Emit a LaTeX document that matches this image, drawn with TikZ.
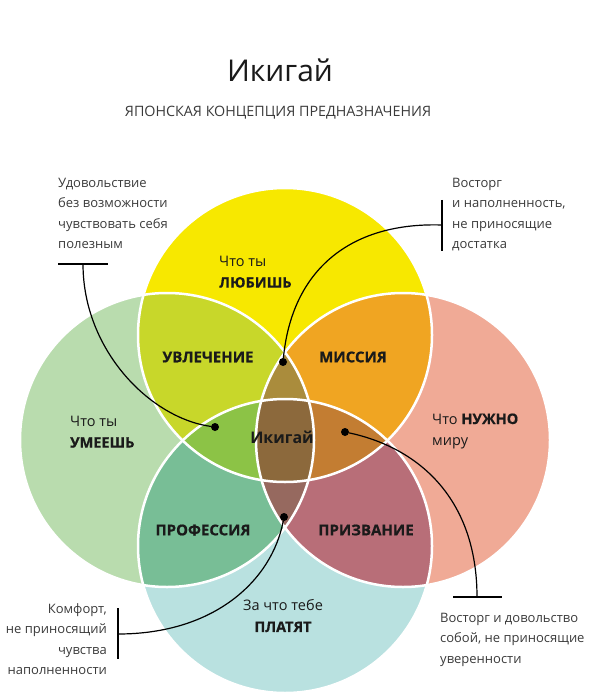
\documentclass[tikz,border=0pt]{standalone}
\usepackage{fontspec}
\setmainfont{Open Sans}
\newfontfamily\heavyfont{Open Sans}[UprightFont={* Bold}, FakeBold=0.6]
\usetikzlibrary{positioning}
\definecolor{Love}{HTML}{F7E800}
\definecolor{Good}{HTML}{B9DCAE}
\definecolor{Need}{HTML}{F0AA96}
\definecolor{Paid}{HTML}{B9E1E0}
\definecolor{Passion}{HTML}{C8D72A}
\definecolor{Mission}{HTML}{F0A522}
\definecolor{Profession}{HTML}{78BE96}
\definecolor{Vocation}{HTML}{B86E78}
\definecolor{TopTri}{HTML}{AA8C3C}
\definecolor{LeftTri}{HTML}{8CC346}
\definecolor{RightTri}{HTML}{C37D32}
\definecolor{LowTri}{HTML}{96695F}
\definecolor{Core}{HTML}{8C693C}
\definecolor{Ink}{HTML}{1A1A1A}
\definecolor{Note}{HTML}{3A3A3A}
\def\rad{147pt}
\tikzset{
  ring/.style={draw=white, line width=2.5pt},
  note/.style={align=left, text=Note, font=\fontsize{13}{20.5}\selectfont, inner sep=0pt},
  circlabel/.style={align=left, text=Ink, font=\fontsize{14.5}{21}\selectfont, inner sep=0pt},
  zone/.style={text=Ink, font=\heavyfont\fontsize{15}{17}\selectfont, inner sep=0pt},
  lead/.style={draw=black, line width=1.2pt},
  bar/.style={draw=black, line width=1.5pt},
  pin/.style={circle, fill=black, inner sep=0pt, minimum size=8pt}
}

\begin{document}
\begin{tikzpicture}[x=1pt, y=-1pt]
  \useasboundingbox (0,0) rectangle (596,700);

  \node[text=Ink, font=\fontsize{30}{36}\selectfont] (title) at (280,70) {Икигай};
  \node[text=Note, font=\fontsize{14.3}{16}\selectfont] (subtitle) at (278,113) {ЯПОНСКАЯ КОНЦЕПЦИЯ ПРЕДНАЗНАЧЕНИЯ};

  % centres of the four circles
  \coordinate (love) at (285,335);
  \coordinate (good) at (167,440);
  \coordinate (need) at (403,440);
  \coordinate (paid) at (285,546);

  % single circles
  \fill[Love] (love) circle[radius=\rad];
  \fill[Good] (good) circle[radius=\rad];
  \fill[Need] (need) circle[radius=\rad];
  \fill[Paid] (paid) circle[radius=\rad];

  % pairs
  \begin{scope}
    \clip (love) circle[radius=\rad];
    \fill[Passion] (good) circle[radius=\rad];
    \fill[Mission] (need) circle[radius=\rad];
  \end{scope}
  \begin{scope}
    \clip (paid) circle[radius=\rad];
    \fill[Profession] (good) circle[radius=\rad];
    \fill[Vocation] (need) circle[radius=\rad];
  \end{scope}

  % triples
  \begin{scope}
    \clip (love) circle[radius=\rad];
    \clip (good) circle[radius=\rad];
    \fill[TopTri] (need) circle[radius=\rad];
    \fill[LeftTri] (paid) circle[radius=\rad];
  \end{scope}
  \begin{scope}
    \clip (paid) circle[radius=\rad];
    \clip (need) circle[radius=\rad];
    \fill[RightTri] (love) circle[radius=\rad];
    \fill[LowTri] (good) circle[radius=\rad];
  \end{scope}
  \begin{scope}
    \clip (love) circle[radius=\rad];
    \clip (good) circle[radius=\rad];
    \clip (need) circle[radius=\rad];
    \fill[Core] (paid) circle[radius=\rad];
  \end{scope}

  % outlines
  \foreach \c in {love,good,need,paid}
    \draw[ring] (\c) circle[radius=\rad];

  % circle texts
  \node[circlabel, anchor=west] (lovetxt) at (219,272) {Что ты\\{\heavyfont ЛЮБИШЬ}};
  \node[circlabel, anchor=west] (goodtxt) at (70,432) {Что ты\\{\heavyfont УМЕЕШЬ}};
  \node[circlabel, anchor=west] (needtxt) at (432,431) {Что {\heavyfont НУЖНО}\\миру};
  \node[circlabel, align=center] (paidtxt) at (283,616) {За что тебе\\{\heavyfont ПЛАТЯТ}};

  \node[zone] (passion) at (208,357) {УВЛЕЧЕНИЕ};
  \node[zone] (mission) at (353,357) {МИССИЯ};
  \node[zone] (profession) at (203,530) {ПРОФЕССИЯ};
  \node[zone] (vocation) at (366,530) {ПРИЗВАНИЕ};
  \node[text=Ink, font=\bfseries\fontsize{16}{18}\selectfont, inner sep=0pt] (ikigai) at (282,437) {Икигай};

  % pins
  \node[pin] (pinL) at (215,427) {};
  \node[pin] (pinT) at (283,362) {};
  \node[pin] (pinB) at (284,517) {};
  \node[pin] (pinR) at (345,432) {};

  % annotations
  \node[note, anchor=north west] (noteTL) at (58,178) {Удовольствие\\без возможности\\чувствовать себя\\полезным};
  \coordinate (barTL) at (83,264);
  \draw[bar] (58,264) -- (108,264);
  \draw[lead] (barTL) .. controls (83,350) and (150,418) .. (pinL);

  \node[note, anchor=north west] (noteTR) at (452,178) {Восторг\\и наполненность,\\не приносящие\\достатка};
  \coordinate (barTR) at (442,225);
  \draw[bar] (442,200) -- (442,251);
  \draw[lead] (barTR) .. controls (350,222) and (292,270) .. (pinT);

  \node[note, align=right, anchor=north east] (noteBL) at (107,603) {Комфорт,\\не приносящий\\чувства\\наполненности};
  \coordinate (barBL) at (118,634);
  \draw[bar] (118,608) -- (118,659);
  \draw[lead] (barBL) .. controls (215,634) and (272,580) .. (pinB);

  \node[note, anchor=north west] (noteBR) at (440,613) {Восторг и довольство\\собой, не приносящие\\уверенности};
  \coordinate (barBR) at (477,597);
  \draw[bar] (453,597) -- (502,597);
  \draw[lead] (barBR) .. controls (477,500) and (420,448) .. (pinR);
\end{tikzpicture}
\end{document}
